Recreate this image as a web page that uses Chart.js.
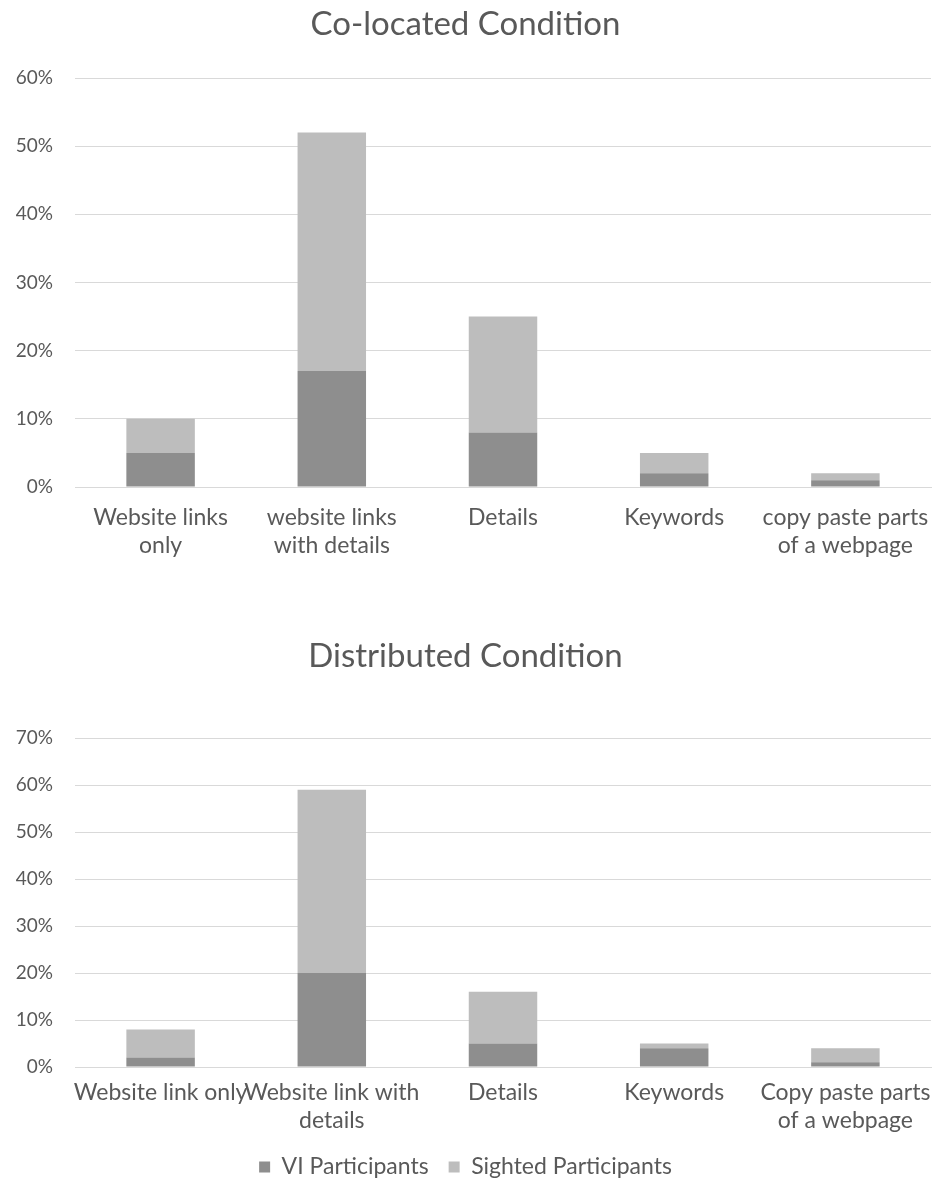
<!DOCTYPE html>
<html>
<head>
<meta charset="utf-8">
<script src="https://cdn.jsdelivr.net/npm/chart.js@4/dist/chart.umd.min.js"></script>
<style>
  html, body { margin: 0; padding: 0; background: #ffffff; }
  .panel { position: absolute; left: 0; width: 936px; }
  #topPanel { top: 0; height: 567px; }
  #bottomPanel { top: 600px; height: 592px; }
</style>
</head>
<body>
<div class="panel" id="topPanel"><canvas id="coLocated"></canvas></div>
<div class="panel" id="bottomPanel"><canvas id="distributed"></canvas></div>
<script>
// Share of answers by content type (%)
const coLocatedCategories = [
  ["Website links", "only"],
  ["website links", "with details"],
  "Details",
  "Keywords",
  ["copy paste parts", "of a webpage"]
];
const coLocatedVI = [5, 17, 8, 2, 1];
const coLocatedSighted = [5, 35, 17, 3, 1];
const coLocatedTicks = [0, 10, 20, 30, 40, 50, 60];

const distributedCategories = [
  "Website link only",
  ["Website link with", "details"],
  "Details",
  "Keywords",
  ["Copy paste parts", "of a webpage"]
];
const distributedVI = [2, 20, 5, 4, 1];
const distributedSighted = [6, 39, 11, 1, 3];
const distributedTicks = [0, 10, 20, 30, 40, 50, 60, 70];

const seriesNames = ["VI Participants", "Sighted Participants"];

const FONT = "Lato, 'Open Sans', sans-serif";
const TEXT = "#595959";
const GRID = "#d9d9d9";
const DARK = "#8e8e8e";
const LIGHT = "#bdbdbd";

Chart.defaults.font.family = FONT;
Chart.defaults.color = TEXT;
Chart.defaults.animation = false;

function buildChart(canvasId, opts) {
  const maxTick = opts.ticks[opts.ticks.length - 1];
  return new Chart(document.getElementById(canvasId), {
    type: "bar",
    data: {
      labels: opts.categories,
      datasets: [
        { label: seriesNames[0], data: opts.vi, backgroundColor: DARK,
          categoryPercentage: 1.0, barPercentage: 0.4 },
        { label: seriesNames[1], data: opts.sighted, backgroundColor: LIGHT,
          categoryPercentage: 1.0, barPercentage: 0.4 }
      ]
    },
    options: {
      responsive: true,
      maintainAspectRatio: false,
      layout: { padding: { left: 0, right: 5, top: 0, bottom: opts.bottomPad } },
      plugins: {
        title: {
          display: true,
          text: opts.title,
          color: TEXT,
          font: { family: FONT, size: 33, weight: "normal", lineHeight: 1.2 },
          padding: opts.titlePad
        },
        legend: {
          display: opts.legend,
          position: "bottom",
          labels: {
            boxWidth: 11, boxHeight: 11, padding: 20,
            color: TEXT, font: { family: FONT, size: 23 }
          }
        },
        tooltip: { enabled: false }
      },
      scales: {
        x: {
          stacked: true,
          grid: { display: false, drawTicks: false },
          border: { display: true, color: GRID, width: 1 },
          ticks: {
            autoSkip: false, maxRotation: 0, minRotation: 0,
            padding: opts.labelPad, color: TEXT,
            font: { family: FONT, size: 23, lineHeight: 1.2 }
          },
          // category labels may run past the plot edges; keep the plot full width
          afterFit: (s) => {
            s.height = opts.xHeight;
            s.paddingLeft = 0;
            s.paddingRight = 0;
          }
        },
        y: {
          stacked: true,
          min: 0, max: maxTick,
          afterBuildTicks: (s) => { s.ticks = opts.ticks.map(v => ({ value: v })); },
          grid: { color: GRID, lineWidth: 1, drawTicks: false },
          border: { display: false },
          ticks: {
            padding: 22, color: TEXT,
            font: { family: FONT, size: 19 },
            callback: (v) => v + "%"
          },
          afterFit: (s) => { s.width = 75; }
        }
      }
    }
  });
}

buildChart("coLocated", {
  title: "Co-located Condition",
  categories: coLocatedCategories,
  vi: coLocatedVI,
  sighted: coLocatedSighted,
  ticks: coLocatedTicks,
  titlePad: { top: 5, bottom: 33.4 },
  labelPad: 17,
  xHeight: 80,
  bottomPad: 0,
  legend: false
});

buildChart("distributed", {
  title: "Distributed Condition",
  categories: distributedCategories,
  vi: distributedVI,
  sighted: distributedSighted,
  ticks: distributedTicks,
  titlePad: { top: 36.2, bottom: 62.2 },
  labelPad: 12,
  xHeight: 68.5,
  bottomPad: 3.5,
  legend: true
});
</script>
</body>
</html>
